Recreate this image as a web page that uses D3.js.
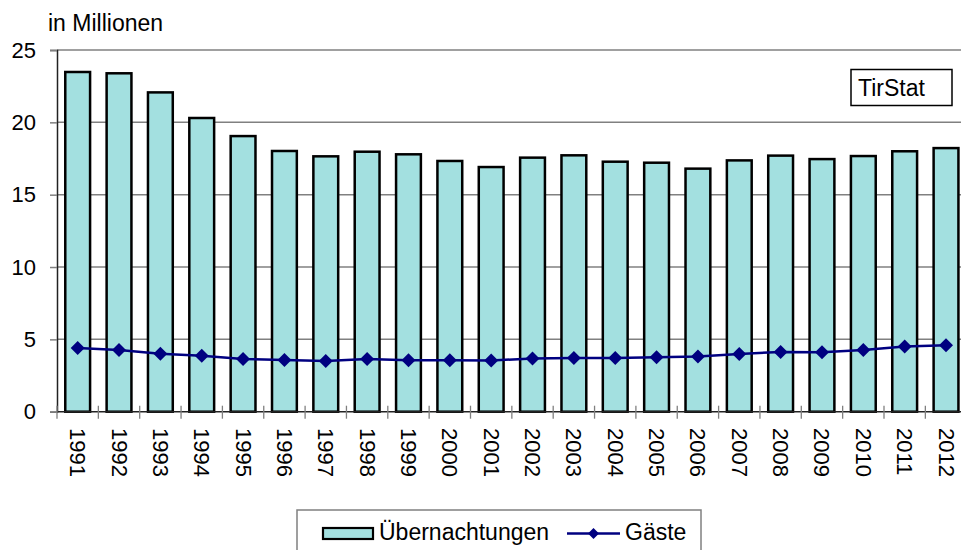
<!DOCTYPE html>
<html><head><meta charset="utf-8">
<script src="https://cdn.jsdelivr.net/npm/d3@7"></script>
<style>body{margin:0;background:#fff}svg{display:block;font-family:Arial,"Liberation Sans",sans-serif}</style>
</head><body>
<script>
const years = ["1991","1992","1993","1994","1995","1996","1997","1998","1999","2000","2001","2002","2003","2004","2005","2006","2007","2008","2009","2010","2011","2012"];
const uebernachtungen = [23.48,23.39,22.07,20.30,19.05,18.02,17.65,17.97,17.79,17.33,16.91,17.56,17.72,17.28,17.21,16.80,17.37,17.70,17.46,17.67,18.00,18.22];
const gaeste = [4.40,4.27,4.00,3.86,3.65,3.58,3.51,3.65,3.56,3.56,3.54,3.68,3.72,3.72,3.77,3.81,3.99,4.13,4.11,4.27,4.50,4.60];
const yTicks = [0,5,10,15,20,25];
const unitLabel = "in Millionen";
const seriesNames = ["Übernachtungen","Gäste"];
const sourceLabel = "TirStat";

const W=961,H=550;
const svg=d3.select("body").append("svg").attr("width",W).attr("height",H);
const x=d3.scaleBand().domain(years).range([57,966.7]).paddingInner(0.4).paddingOuter(0.2);
const y=d3.scaleLinear().domain([0,25]).range([411.7,50]);
const fs=22, fs2=23;

// gridlines
svg.append("g").selectAll("line").data(yTicks.filter(d=>d>0)).join("line")
  .attr("x1",57).attr("x2",W).attr("y1",d=>y(d)).attr("y2",d=>y(d))
  .attr("stroke","#808080").attr("stroke-width",1.5);

// bars
svg.append("g").selectAll("rect").data(years).join("rect")
  .attr("x",d=>x(d)).attr("width",x.bandwidth())
  .attr("y",(d,i)=>y(uebernachtungen[i])).attr("height",(d,i)=>y(0)-y(uebernachtungen[i]))
  .attr("fill","#a3e0e0").attr("stroke","#000").attr("stroke-width",2.5);

// y axis
const yAxis=d3.axisLeft(y).tickValues(yTicks).tickSize(7).tickPadding(14);
const ga=svg.append("g").attr("transform","translate(57,0)").call(yAxis);
ga.select(".domain").attr("stroke","#222").attr("stroke-width",1.5);
ga.selectAll(".tick line").attr("stroke","#808080").attr("stroke-width",1.5);
ga.selectAll(".tick text").attr("font-size",fs).attr("fill","#000").attr("font-family","Arial,'Liberation Sans',sans-serif");

// x axis
const xb=d3.scaleLinear().domain([0,years.length]).range([57,966.7]);
svg.append("line").attr("x1",57).attr("x2",W).attr("y1",y(0)).attr("y2",y(0)).attr("stroke","#222").attr("stroke-width",1.5);
svg.append("g").selectAll("line").data(d3.range(years.length+1)).join("line")
  .attr("x1",d=>xb(d)).attr("x2",d=>xb(d)).attr("y1",y(0)-6).attr("y2",y(0)+7)
  .attr("stroke","#808080").attr("stroke-width",1.3);
svg.append("g").selectAll("text").data(years).join("text")
  .attr("transform",d=>`translate(${x(d)+x.bandwidth()/2},428) rotate(90)`)
  .attr("dominant-baseline","central").attr("text-anchor","start")
  .attr("font-size",fs).text(d=>d);

// line
const cx=(d,i)=>x(years[i])+x.bandwidth()/2;
svg.append("path").datum(gaeste)
  .attr("d",d3.line().x((d,i)=>cx(d,i)).y(d=>y(d)))
  .attr("fill","none").attr("stroke","#000080").attr("stroke-width",2.5);
const diamond=r=>`M0,${-r}L${r},0L0,${r}L${-r},0Z`;
svg.append("g").selectAll("path").data(gaeste).join("path")
  .attr("transform",(d,i)=>`translate(${cx(d,i)},${y(d)})`)
  .attr("d",diamond(7)).attr("fill","#000080");

// unit label
svg.append("text").attr("x",48).attr("y",31).attr("font-size",fs2).text(unitLabel);

// source box
svg.append("rect").attr("x",851).attr("y",69.5).attr("width",101).attr("height",36)
  .attr("fill","#fff").attr("stroke","#000").attr("stroke-width",1.5);
svg.append("text").attr("x",858).attr("y",96).attr("font-size",fs2).text(sourceLabel);

// legend
svg.append("rect").attr("x",297).attr("y",510).attr("width",404).attr("height",60)
  .attr("fill","#fff").attr("stroke","#808080").attr("stroke-width",1.5);
svg.append("rect").attr("x",323).attr("y",528).attr("width",50).attr("height",11)
  .attr("fill","#a3e0e0").attr("stroke","#000").attr("stroke-width",2.2);
svg.append("text").attr("x",379).attr("y",540).attr("font-size",fs2).text(seriesNames[0]);
svg.append("line").attr("x1",567).attr("x2",620).attr("y1",533.5).attr("y2",533.5).attr("stroke","#000080").attr("stroke-width",2.5);
svg.append("path").attr("transform","translate(593.5,533.5)").attr("d",diamond(5.5)).attr("fill","#000080");
svg.append("text").attr("x",625).attr("y",540).attr("font-size",fs2).text(seriesNames[1]);
</script>
</body></html>
